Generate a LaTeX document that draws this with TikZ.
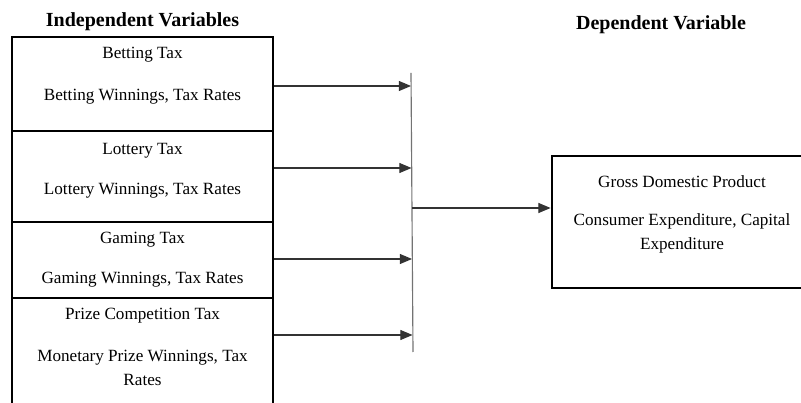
\documentclass[tikz,border=0pt]{standalone}
\usepackage{fontspec}
\setmainfont{Liberation Serif}
\usetikzlibrary{arrows.meta,positioning}
\tikzset{
  varbox/.style={draw, line width=2pt, rectangle, inner sep=0pt},
  feed/.style={draw=black!80, line width=0.75pt, -{Triangle[length=8.5pt,width=7pt]}},
  bar/.style={draw=black!55, line width=0.8pt},
  txt/.style={align=center, inner sep=0pt, font=\fontsize{12}{16.8}\selectfont},
  head/.style={inner sep=0pt, font=\fontsize{14}{16}\selectfont\bfseries}
}
\begin{document}
\begin{tikzpicture}[x=0.7pt,y=-0.7pt]
\useasboundingbox (0,0) rectangle (801,403);
% headings
\node [head] (indep) at (142.5,22) {Independent Variables};
\node [head] (dep) at (661,25) {Dependent Variable};
% left boxes
\node [varbox, minimum width=182.7pt, minimum height=65.8pt] (bet) at (142.5,84) {};
\node [varbox, minimum width=182.7pt, minimum height=63.7pt] (lot) at (142.5,176.5) {};
\node [varbox, minimum width=182.7pt, minimum height=53.2pt] (gam) at (142.5,260) {};
\node [varbox, minimum width=182.7pt, minimum height=92.4pt] (pri) at (142.5,364) {};
\node [txt] (bettitle) at (142.5,55) {Betting Tax};
\node [txt] (betitems) at (142.5,97) {Betting Winnings, Tax Rates};
\node [txt] (lottitle) at (142.5,151) {Lottery Tax};
\node [txt] (lotitems) at (142.5,191) {Lottery Winnings, Tax Rates};
\node [txt] (gamtitle) at (142.5,240) {Gaming Tax};
\node [txt] (gamitems) at (142.5,280) {Gaming Winnings, Tax Rates};
\node [txt] (prititle) at (142.5,316) {Prize Competition Tax};
\node [txt] (priitems) at (142.5,368) {Monetary Prize Winnings, Tax\\Rates};
% right box
\node [varbox, minimum width=182pt, minimum height=92.4pt] (gdp) at (682,222) {};
\node [txt] (gdptitle) at (682,182) {Gross Domestic Product};
\node [txt] (gdpitems) at (682,233.5) {Consumer Expenditure, Capital\\Expenditure};
% collecting bar
\coordinate (bartop) at (411,73);
\coordinate (barbot) at (413,352);
\draw [bar] (bartop) -- (barbot);
\coordinate (in1) at (411,86);
\coordinate (in2) at (411.5,168);
\coordinate (in3) at (412,259);
\coordinate (in4) at (412.5,335);
\coordinate (out) at (412,208);
\foreach \b/\c in {bet/in1,lot/in2,gam/in3,pri/in4}
{
    \draw [feed] (\b.east |- \c) -- (\c);
}
\draw [feed] (out) -- (gdp.west |- out);
\end{tikzpicture}
\end{document}
